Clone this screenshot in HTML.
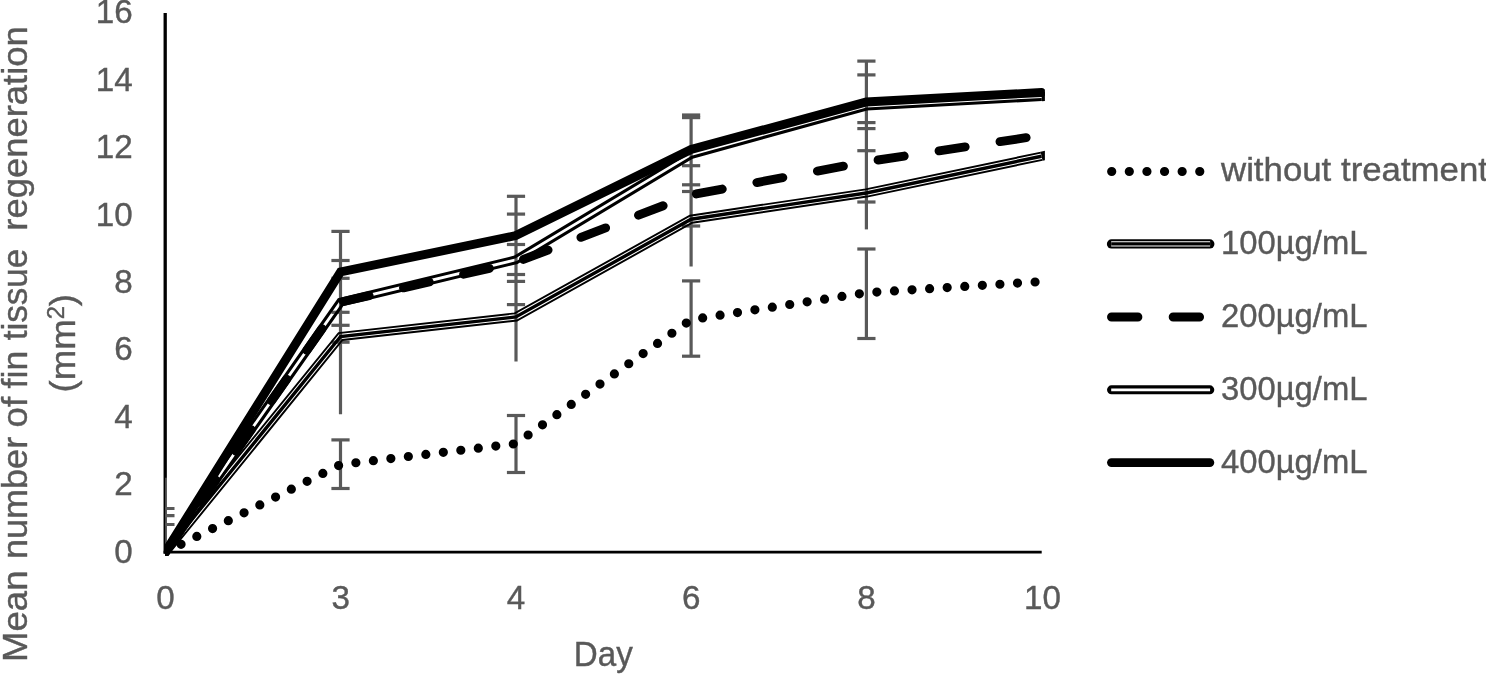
<!DOCTYPE html>
<html lang="en"><head><meta charset="utf-8"><title>Fin tissue regeneration chart</title>
<style>
html,body{margin:0;padding:0;background:#fff;}
body{width:1486px;height:674px;overflow:hidden;}
svg{display:block;}
text{font-family:"Liberation Sans",sans-serif;fill:#595959;stroke:#595959;stroke-width:0.4px;}
</style></head><body>
<svg width="1486" height="674" viewBox="0 0 1486 674">
<defs>
<clipPath id="plot"><rect x="165.2" y="0" width="879.7" height="555.8"/></clipPath>
<clipPath id="eclip"><rect x="165.2" y="0" width="900" height="560"/></clipPath>
</defs>
<rect width="1486" height="674" fill="#fff"/>

<g stroke="#000" fill="none">
<line x1="165.2" y1="13" x2="165.2" y2="553.7" stroke-width="3.3"/>
<line x1="163.6" y1="552.2" x2="1041.7" y2="552.2" stroke-width="2.8"/>
</g>
<g stroke="#595959" fill="none" clip-path="url(#eclip)">
<line x1="340.5" y1="231.4" x2="340.5" y2="414.2" stroke-width="3.2"/>
<line x1="331.4" y1="231.4" x2="349.6" y2="231.4" stroke-width="3.2"/>
<line x1="331.4" y1="260.5" x2="349.6" y2="260.5" stroke-width="3.2"/>
<line x1="331.4" y1="278.3" x2="349.6" y2="278.3" stroke-width="3.2"/>
<line x1="331.4" y1="312.3" x2="349.6" y2="312.3" stroke-width="3.2"/>
<line x1="331.4" y1="325.3" x2="349.6" y2="325.3" stroke-width="3.2"/>
<line x1="331.4" y1="342.2" x2="349.6" y2="342.2" stroke-width="3.2"/>
<line x1="340.5" y1="439.9" x2="340.5" y2="488.5" stroke-width="3.2"/>
<line x1="331.4" y1="439.9" x2="349.6" y2="439.9" stroke-width="3.2"/>
<line x1="331.4" y1="488.5" x2="349.6" y2="488.5" stroke-width="3.2"/>
<line x1="516.0" y1="196.3" x2="516.0" y2="361.5" stroke-width="3.2"/>
<line x1="506.9" y1="196.3" x2="525.1" y2="196.3" stroke-width="3.2"/>
<line x1="506.9" y1="214.1" x2="525.1" y2="214.1" stroke-width="3.2"/>
<line x1="506.9" y1="244.5" x2="525.1" y2="244.5" stroke-width="3.2"/>
<line x1="506.9" y1="274.5" x2="525.1" y2="274.5" stroke-width="3.2"/>
<line x1="506.9" y1="281.4" x2="525.1" y2="281.4" stroke-width="3.2"/>
<line x1="506.9" y1="304.6" x2="525.1" y2="304.6" stroke-width="3.2"/>
<line x1="516.0" y1="415.5" x2="516.0" y2="472.5" stroke-width="3.2"/>
<line x1="506.9" y1="415.5" x2="525.1" y2="415.5" stroke-width="3.2"/>
<line x1="506.9" y1="472.5" x2="525.1" y2="472.5" stroke-width="3.2"/>
<line x1="691.1" y1="115.0" x2="691.1" y2="266.5" stroke-width="3.2"/>
<line x1="682.0" y1="115.0" x2="700.2" y2="115.0" stroke-width="3.2"/>
<line x1="682.0" y1="117.6" x2="700.2" y2="117.6" stroke-width="3.2"/>
<line x1="682.0" y1="165.7" x2="700.2" y2="165.7" stroke-width="3.2"/>
<line x1="682.0" y1="184.8" x2="700.2" y2="184.8" stroke-width="3.2"/>
<line x1="682.0" y1="191.5" x2="700.2" y2="191.5" stroke-width="3.2"/>
<line x1="682.0" y1="226.0" x2="700.2" y2="226.0" stroke-width="3.2"/>
<line x1="691.1" y1="280.9" x2="691.1" y2="356.2" stroke-width="3.2"/>
<line x1="682.0" y1="280.9" x2="700.2" y2="280.9" stroke-width="3.2"/>
<line x1="682.0" y1="356.2" x2="700.2" y2="356.2" stroke-width="3.2"/>
<line x1="866.4" y1="61.1" x2="866.4" y2="229.4" stroke-width="3.2"/>
<line x1="857.3" y1="61.1" x2="875.5" y2="61.1" stroke-width="3.2"/>
<line x1="857.3" y1="74.9" x2="875.5" y2="74.9" stroke-width="3.2"/>
<line x1="857.3" y1="122.6" x2="875.5" y2="122.6" stroke-width="3.2"/>
<line x1="857.3" y1="128.6" x2="875.5" y2="128.6" stroke-width="3.2"/>
<line x1="857.3" y1="150.7" x2="875.5" y2="150.7" stroke-width="3.2"/>
<line x1="857.3" y1="202.0" x2="875.5" y2="202.0" stroke-width="3.2"/>
<line x1="866.4" y1="249.0" x2="866.4" y2="338.5" stroke-width="3.2"/>
<line x1="857.3" y1="249.0" x2="875.5" y2="249.0" stroke-width="3.2"/>
<line x1="857.3" y1="338.5" x2="875.5" y2="338.5" stroke-width="3.2"/>
<line x1="165.4" y1="477.8" x2="165.4" y2="552.0" stroke-width="3.2"/>
<line x1="156.3" y1="508.5" x2="174.5" y2="508.5" stroke-width="3.2"/>
<line x1="156.3" y1="515.6" x2="174.5" y2="515.6" stroke-width="3.2"/>
<line x1="156.3" y1="524.5" x2="174.5" y2="524.5" stroke-width="3.2"/>
</g>
<g stroke="#000" fill="none" stroke-linejoin="miter" stroke-miterlimit="10" clip-path="url(#plot)">
<polyline points="165.30,552.20 340.56,464.58 515.82,443.69 691.08,319.67 866.34,292.71 1041.60,281.59" stroke-width="9.207" stroke-linecap="round" stroke-dasharray="0 17.614"/>
<polyline points="162.45,549.89 338.66,333.04 514.68,313.41 689.88,215.71 865.69,189.34 1040.85,152.63" stroke-width="1.918"/>
<polyline points="165.30,552.20 340.56,336.52 515.82,316.97 691.08,219.24 866.34,192.96 1041.60,156.23" stroke-width="3.386"/>
<polyline points="168.15,554.51 342.46,340.00 516.96,320.54 692.28,222.77 866.99,196.57 1042.35,159.82" stroke-width="1.918"/>
<path d="M162.40,555.77 L165.30,552.20 M1041.60,156.23 L1046.10,155.28" stroke-width="9.257"/>
<polyline points="165.30,552.20 340.56,302.15 515.82,262.38 691.08,194.98 866.34,161.79 1041.60,135.33" stroke-width="8.907" stroke-linecap="round" stroke-dasharray="26.421 35.228"/>
<polyline points="162.90,550.52 338.79,299.55 514.69,257.10 689.91,151.82 865.86,103.10 1041.44,93.64" stroke-width="3.086"/>
<polyline points="167.70,553.88 342.33,304.74 516.95,262.60 692.25,157.26 866.82,108.93 1041.76,99.51" stroke-width="3.086"/>
<path d="M162.66,555.97 L165.30,552.20 M1041.60,96.58 L1046.19,96.33" stroke-width="9.257"/>
<polyline points="165.30,552.20 340.56,271.98 515.82,235.59 691.08,149.49 866.34,101.97 1041.60,92.53" stroke-width="8.907" stroke-linecap="round"/>
</g>
<g stroke="#000" fill="none">
<line x1="1111.7" y1="171.5" x2="1209.8" y2="171.5" stroke-width="9.207" stroke-linecap="round" stroke-dasharray="0 17.614"/>
<line x1="1111.5" y1="243.9" x2="1209.8" y2="243.9" stroke-width="9.257" stroke-linecap="round"/>
<line x1="1111.2" y1="243.9" x2="1210.1" y2="243.9" stroke-width="5.421" stroke="#fff"/>
<line x1="1111.2" y1="243.9" x2="1210.1" y2="243.9" stroke-width="3.386"/>
<line x1="1111.5" y1="317.0" x2="1209.8" y2="317.0" stroke-width="8.907" stroke-linecap="round" stroke-dasharray="26.421 35.228"/>
<line x1="1111.5" y1="389.8" x2="1209.8" y2="389.8" stroke-width="8.957" stroke-linecap="round"/>
<line x1="1111.2" y1="389.8" x2="1210.1" y2="389.8" stroke-width="2.786" stroke="#fff"/>
<line x1="1111.5" y1="462.6" x2="1209.8" y2="462.6" stroke-width="8.907" stroke-linecap="round"/>
</g>
<g font-size="33.2">
<text x="132.6" y="562.6" text-anchor="end">0</text>
<text x="132.6" y="495.2" text-anchor="end">2</text>
<text x="132.6" y="427.8" text-anchor="end">4</text>
<text x="132.6" y="360.4" text-anchor="end">6</text>
<text x="132.6" y="293.0" text-anchor="end">8</text>
<text x="132.6" y="225.6" text-anchor="end">10</text>
<text x="132.6" y="158.2" text-anchor="end">12</text>
<text x="132.6" y="90.8" text-anchor="end">14</text>
<text x="132.6" y="23.4" text-anchor="end">16</text>
<text x="165.5" y="609" text-anchor="middle">0</text>
<text x="340.8" y="609" text-anchor="middle">3</text>
<text x="516.0" y="609" text-anchor="middle">4</text>
<text x="691.3" y="609" text-anchor="middle">6</text>
<text x="866.5" y="609" text-anchor="middle">8</text>
<text x="1042.4" y="609" text-anchor="middle">10</text>
<text x="1221" y="181.1" textLength="267.0" lengthAdjust="spacingAndGlyphs">without treatment</text>
<text x="1221" y="253.9" textLength="146.5" lengthAdjust="spacingAndGlyphs">100µg/mL</text>
<text x="1221" y="327.0" textLength="146.5" lengthAdjust="spacingAndGlyphs">200µg/mL</text>
<text x="1221" y="399.8" textLength="146.5" lengthAdjust="spacingAndGlyphs">300µg/mL</text>
<text x="1221" y="472.6" textLength="146.5" lengthAdjust="spacingAndGlyphs">400µg/mL</text>
</g>
<g font-size="35.5">
<text x="603.3" y="666.4" text-anchor="middle" textLength="59" lengthAdjust="spacingAndGlyphs">Day</text>
<g transform="translate(27.2,659) rotate(-90)">
<text x="-2.92" y="0" textLength="91.37" lengthAdjust="spacingAndGlyphs">Mean</text>
<text x="99.94" y="0" textLength="122.23" lengthAdjust="spacingAndGlyphs">number</text>
<text x="231.64" y="0" textLength="30.38" lengthAdjust="spacingAndGlyphs">of</text>
<text x="270.64" y="0" textLength="37.55" lengthAdjust="spacingAndGlyphs">fin</text>
<text x="318.65" y="0" textLength="91.62" lengthAdjust="spacingAndGlyphs">tissue</text>
<text x="428.31" y="0" textLength="204.53" lengthAdjust="spacingAndGlyphs">regeneration</text>
</g>
<text transform="translate(75,343.2) rotate(-90)" text-anchor="middle" textLength="98.5" lengthAdjust="spacingAndGlyphs">(mm<tspan font-size="23" dy="-11.5">2</tspan><tspan dy="11.5">)</tspan></text>
</g>
</svg></body></html>
